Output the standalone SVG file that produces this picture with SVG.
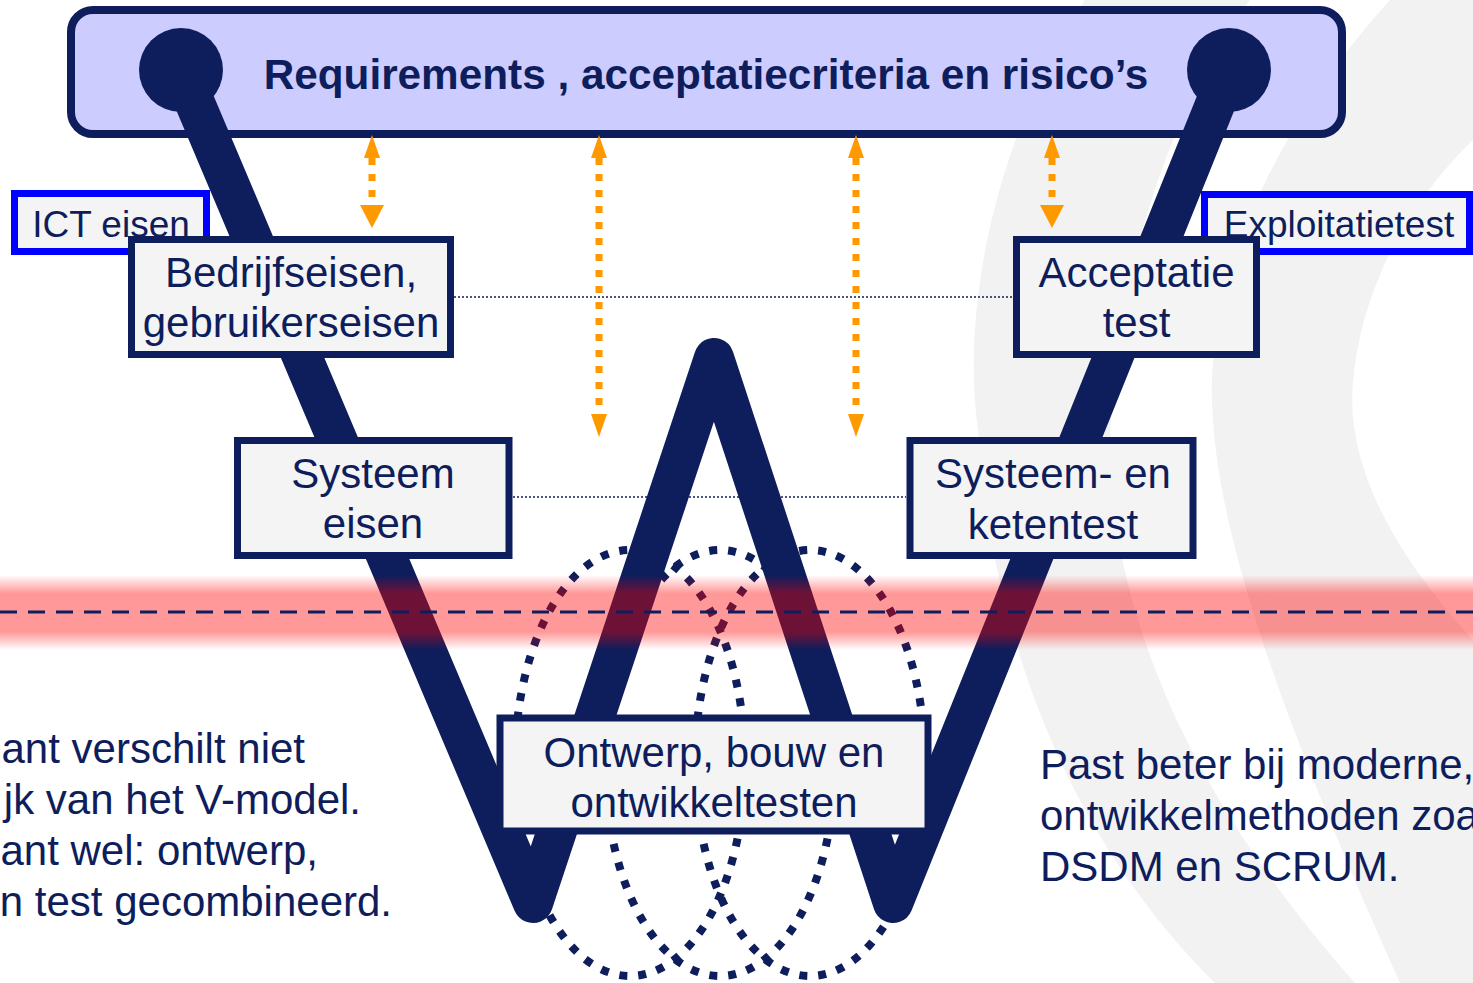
<svg xmlns="http://www.w3.org/2000/svg" width="1473" height="983" viewBox="0 0 1473 983">
<defs>
<style>
.bg{fill:#f2f2f2}
.box{fill:#f4f4f4;stroke:#0e1d5c;stroke-width:7}
.bluebox{fill:#f4f4f4;stroke:#0000ff;stroke-width:7}
.t{font-family:"Liberation Sans",Arial,sans-serif;fill:#0e1d5c;text-anchor:middle;font-size:42px}
.ts{font-size:37px}
.title{font-weight:bold;font-size:42.3px}
.note{font-family:"Liberation Sans",Arial,sans-serif;fill:#0e1d5c;font-size:42px}
.orange{stroke:#ff9900;stroke-width:7;stroke-dasharray:7 9;fill:none}
.thin{stroke:#0e1d5c;stroke-width:1.5;stroke-dasharray:2 2;fill:none}
.ell{fill:none;stroke:#0e1d5c;stroke-width:8;stroke-dasharray:8 11}
.vline{fill:none;stroke:#0e1d5c;stroke-width:40;stroke-linejoin:round;stroke-linecap:round}
.knob{fill:#0e1d5c}
.dash{stroke:#0e1d5c;stroke-width:3;stroke-dasharray:17 11;fill:none}
</style>
<linearGradient id="redband" x1="0" y1="0" x2="0" y2="1">
<stop offset="0" stop-color="#ff0000" stop-opacity="0"/>
<stop offset="0.24" stop-color="#ff0000" stop-opacity="0.4"/>
<stop offset="0.76" stop-color="#ff0000" stop-opacity="0.4"/>
<stop offset="1" stop-color="#ff0000" stop-opacity="0"/>
</linearGradient>
<marker id="ahS" viewBox="0 -8 23 16" markerWidth="23" markerHeight="16" refX="0" refY="0" orient="auto-start-reverse" markerUnits="userSpaceOnUse"><path d="M0,-8 L23,0 L0,8 Z" fill="#ff9900"/></marker>
<marker id="ahL" viewBox="0 -12 23 24" markerWidth="23" markerHeight="24" refX="0" refY="0" orient="auto-start-reverse" markerUnits="userSpaceOnUse"><path d="M0,-12 L23,0 L0,12 Z" fill="#ff9900"/></marker>
</defs>

<rect x="0" y="0" width="1473" height="983" fill="#ffffff"/>

<g id="background">
<path class="bg" d="M1085,0 C1000,130 960,300 978,430 C990,620 1060,830 1215,983 L1355,983 C1220,830 1140,680 1115,520 C1095,380 1140,150 1250,0 Z"/>
<path class="bg" d="M1390,0 C1290,110 1200,270 1213,420 C1222,560 1300,760 1400,983 L1473,983 L1473,640 C1400,560 1345,470 1353,383 C1360,290 1410,200 1473,140 L1473,0 Z"/>
</g>

<g id="connectors">
<line class="thin" x1="454" y1="297" x2="1013" y2="297"/>
<line class="thin" x1="513" y1="497" x2="906" y2="497"/>
</g>

<g id="iterations">
<ellipse class="ell" cx="630" cy="763" rx="115" ry="213"/>
<ellipse class="ell" cx="720" cy="763" rx="115" ry="213"/>
<ellipse class="ell" cx="810" cy="763" rx="115" ry="213"/>
</g>

<g id="requirements">
<rect x="71" y="10" width="1271" height="124" rx="22" ry="22" fill="#ccccff" stroke="#0e1d5c" stroke-width="8"/>
<text class="t title" x="706" y="89">Requirements , acceptatiecriteria en risico’s</text>
</g>

<g id="ict-eisen">
<rect class="bluebox" x="14.5" y="193.5" width="192" height="58"/>
<text class="t ts" x="111" y="237">ICT eisen</text>
</g>

<g id="exploitatietest">
<rect class="bluebox" x="1204.5" y="194.5" width="265" height="57"/>
<text class="t ts" x="1339" y="237">Exploitatietest</text>
</g>

<g id="v-model">
<polyline class="vline" points="181,70 533,903 714,358 893,903 1229,70"/>
<circle class="knob" cx="181" cy="70" r="42"/>
<circle class="knob" cx="1229" cy="70" r="42"/>
</g>

<g id="bedrijfseisen">
<rect class="box" x="131.5" y="239.5" width="319" height="115"/>
<text class="t" x="291" y="287">Bedrijfseisen,</text>
<text class="t" x="291" y="337">gebruikerseisen</text>
</g>

<g id="acceptatietest">
<rect class="box" x="1016.5" y="239.5" width="240" height="115"/>
<text class="t" x="1136.5" y="287">Acceptatie</text>
<text class="t" x="1136.5" y="337">test</text>
</g>

<g id="systeemeisen">
<rect class="box" x="237.5" y="440.5" width="271.5" height="115"/>
<text class="t" x="373" y="488">Systeem</text>
<text class="t" x="373" y="538">eisen</text>
</g>

<g id="systeemtest">
<rect class="box" x="910" y="440.5" width="283" height="115"/>
<text class="t" x="1053" y="488">Systeem- en</text>
<text class="t" x="1053" y="539">ketentest</text>
</g>

<g id="ontwerp">
<rect class="box" x="500" y="718" width="428" height="113"/>
<text class="t" x="714" y="767">Ontwerp, bouw en</text>
<text class="t" x="714" y="817">ontwikkeltesten</text>
</g>

<g id="arrows">
<line class="orange" x1="372" y1="158" x2="372" y2="205" marker-start="url(#ahS)" marker-end="url(#ahL)"/>
<line class="orange" x1="599" y1="158" x2="599" y2="414" marker-start="url(#ahS)" marker-end="url(#ahS)"/>
<line class="orange" x1="856" y1="158" x2="856" y2="414" marker-start="url(#ahS)" marker-end="url(#ahS)"/>
<line class="orange" x1="1052" y1="158" x2="1052" y2="205" marker-start="url(#ahS)" marker-end="url(#ahL)"/>
</g>

<g id="boundary">
<rect x="0" y="575" width="1473" height="75" fill="url(#redband)"/>
<line class="dash" x1="0" y1="612" x2="1473" y2="612"/>
</g>

<g id="note-left">
<text class="note" text-anchor="end" x="305" y="763">ant verschilt niet</text>
<text class="note" text-anchor="end" x="361" y="814">jk van het V-model.</text>
<text class="note" text-anchor="end" x="318" y="865">ant wel: ontwerp,</text>
<text class="note" text-anchor="end" x="392" y="916">n test gecombineerd.</text>
</g>

<g id="note-right">
<text class="note" x="1040" y="779">Past beter bij moderne,</text>
<text class="note" x="1040" y="830">ontwikkelmethoden zoa</text>
<text class="note" x="1040" y="881">DSDM en SCRUM.</text>
</g>
</svg>
